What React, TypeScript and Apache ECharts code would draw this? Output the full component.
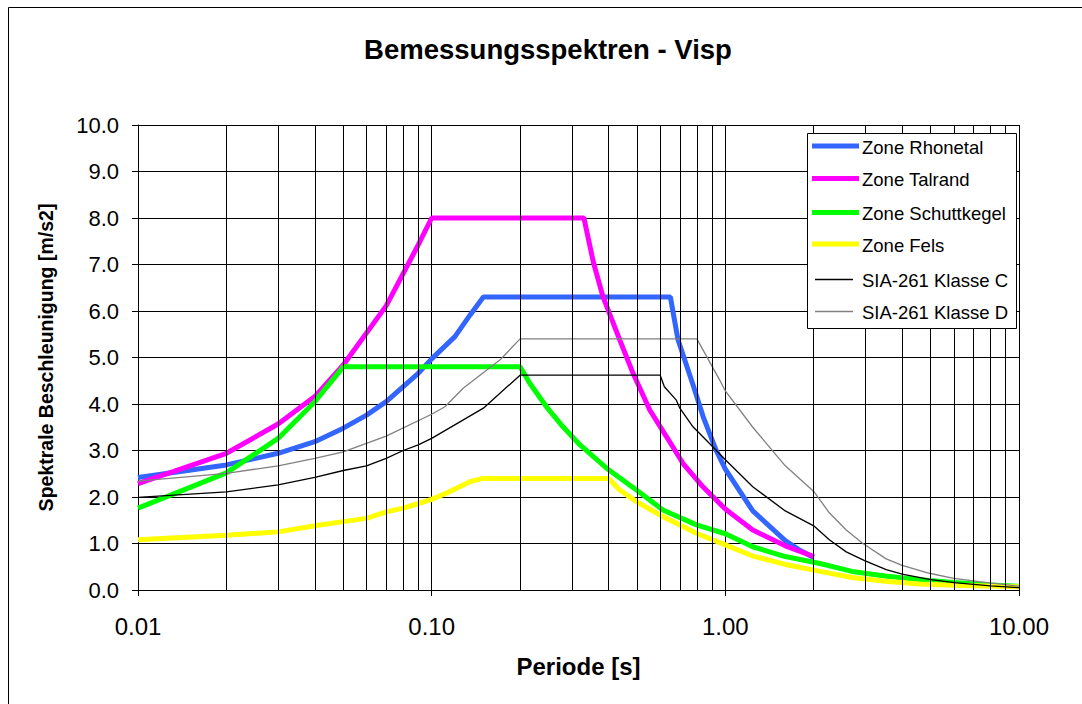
import React, { useEffect, useRef } from "react";
import * as echarts from "echarts";

const FONT = '"Liberation Sans", Arial, sans-serif';

// Periods [s] and spectral accelerations [m/s2] per zone
const rhonetalT = [0.01, 0.02, 0.03, 0.04, 0.05, 0.06, 0.07, 0.09, 0.1, 0.12, 0.135, 0.15, 0.65, 0.69, 0.78, 0.84, 0.93, 1.0, 1.24, 1.6, 1.8, 2.0];
const rhonetalA = [2.42, 2.69, 2.94, 3.19, 3.48, 3.76, 4.05, 4.66, 4.97, 5.45, 5.91, 6.3, 6.3, 5.38, 4.37, 3.73, 3.01, 2.6, 1.7, 1.06, 0.85, 0.7];

const talrandT = [0.01, 0.02, 0.03, 0.04, 0.05, 0.07, 0.09, 0.1, 0.33, 0.355, 0.383, 0.437, 0.485, 0.553, 0.63, 0.718, 0.839, 1.0, 1.24, 1.6, 2.0];
const talrandA = [2.29, 2.94, 3.57, 4.16, 4.84, 6.11, 7.42, 8.0, 8.0, 7.06, 6.31, 5.38, 4.66, 3.87, 3.3, 2.72, 2.22, 1.74, 1.29, 0.95, 0.72];

const schuttkegelT = [0.01, 0.02, 0.03, 0.04, 0.05, 0.2, 0.216, 0.246, 0.28, 0.32, 0.394, 0.498, 0.613, 0.797, 1.0, 1.24, 1.6, 2.1, 2.7, 3.5, 4.6, 6.0, 8.0, 10];
const schuttkegelA = [1.76, 2.52, 3.26, 4.05, 4.8, 4.8, 4.44, 3.94, 3.51, 3.12, 2.62, 2.15, 1.72, 1.4, 1.21, 0.93, 0.72, 0.57, 0.4, 0.3, 0.22, 0.16, 0.11, 0.08];

const felsT = [0.01, 0.02, 0.03, 0.04, 0.05, 0.06, 0.07, 0.08, 0.09, 0.1, 0.113, 0.135, 0.15, 0.4, 0.437, 0.498, 0.613, 0.797, 1.0, 1.24, 1.6, 2.1, 2.7, 3.5, 4.6, 6.0, 10];
const felsA = [1.08, 1.18, 1.25, 1.38, 1.47, 1.54, 1.68, 1.76, 1.86, 1.95, 2.09, 2.33, 2.4, 2.4, 2.15, 1.9, 1.58, 1.22, 0.97, 0.73, 0.55, 0.4, 0.27, 0.19, 0.13, 0.1, 0.07];

const klasseCT = [0.01, 0.02, 0.03, 0.04, 0.05, 0.06, 0.07, 0.08, 0.09, 0.1, 0.15, 0.2, 0.6, 0.62, 0.68, 0.7, 0.776, 0.906, 1.0, 1.24, 1.6, 2.0, 2.26, 2.58, 2.98, 3.53, 4.0, 4.95, 6.0, 8.0, 10];
const klasseCA = [1.99, 2.11, 2.26, 2.42, 2.57, 2.67, 2.83, 3.0, 3.12, 3.26, 3.91, 4.62, 4.62, 4.37, 4.09, 3.91, 3.51, 3.08, 2.8, 2.22, 1.7, 1.38, 1.08, 0.82, 0.63, 0.44, 0.34, 0.23, 0.16, 0.09, 0.05];

const klasseDT = [0.01, 0.02, 0.03, 0.04, 0.05, 0.07, 0.1, 0.111, 0.128, 0.171, 0.2, 0.8, 0.956, 1.0, 1.24, 1.6, 2.0, 2.26, 2.58, 2.94, 3.53, 4.0, 4.95, 6.0, 7.3, 10];
const klasseDA = [2.34, 2.51, 2.67, 2.83, 2.97, 3.31, 3.78, 3.94, 4.34, 4.95, 5.4, 5.4, 4.52, 4.28, 3.5, 2.67, 2.12, 1.66, 1.29, 1.0, 0.67, 0.53, 0.36, 0.25, 0.18, 0.08];

// Intermediate log grid lines (2..9 per decade)
const minorPeriods = [0.02, 0.03, 0.04, 0.05, 0.06, 0.07, 0.08, 0.09, 0.2, 0.3, 0.4, 0.5, 0.6, 0.7, 0.8, 0.9, 2, 3, 4, 5, 6, 7, 8, 9];

const seriesNames = ["Zone Rhonetal", "Zone Talrand", "Zone Schuttkegel", "Zone Fels", "SIA-261 Klasse C", "SIA-261 Klasse D"];
const seriesColors = ["#3366FF", "#FF00FF", "#00FF00", "#FFFF00", "#000000", "#808080"];
const seriesWidths = [5, 5, 5, 5, 1.3, 1.3];
const seriesT = [rhonetalT, talrandT, schuttkegelT, felsT, klasseCT, klasseDT];
const seriesA = [rhonetalA, talrandA, schuttkegelA, felsA, klasseCA, klasseDA];

// Legend box geometry
const LEGEND_BOX = { x: 807.5, y: 133.5, width: 209, height: 195 };
const legendRowY = [146, 178.5, 212.5, 244, 279.5, 311.5];

function buildLegend() {
  const items: any[] = [
    {
      type: "rect",
      silent: true,
      shape: { ...LEGEND_BOX },
      style: { fill: "#fff", stroke: "#000", lineWidth: 1 },
      z: 100,
    },
  ];
  seriesNames.forEach((name, i) => {
    const thick = seriesWidths[i] > 2;
    items.push({
      type: "line",
      silent: true,
      z: 101,
      shape: {
        x1: thick ? 812 : 815,
        y1: legendRowY[i],
        x2: thick ? 859 : 853,
        y2: legendRowY[i],
      },
      style: { stroke: seriesColors[i], lineWidth: seriesWidths[i] },
    });
    items.push({
      type: "text",
      silent: true,
      z: 101,
      x: 862,
      y: legendRowY[i] + 1,
      style: {
        text: name,
        font: `18.5px ${FONT}`,
        fill: "#000",
        align: "left",
        verticalAlign: "middle",
      },
    });
  });
  return items;
}

export default function App() {
  const ref = useRef<HTMLDivElement>(null);

  useEffect(() => {
    if (!ref.current) return;
    const chart = echarts.init(ref.current, undefined, { renderer: "svg" });

    const lines = seriesNames.map((name, i) => ({
      name,
      type: "line",
      data: seriesT[i].map((t, k) => [t, seriesA[i][k]]),
      showSymbol: false,
      symbol: "none",
      lineStyle: { color: seriesColors[i], width: seriesWidths[i] },
      itemStyle: { color: seriesColors[i] },
      emphasis: { disabled: true },
      z: 3,
    }));

    chart.setOption({
      animation: false,
      backgroundColor: "#ffffff",
      textStyle: { fontFamily: FONT, color: "#000" },
      graphic: [
        {
          type: "rect",
          silent: true,
          z: -10,
          shape: { x: 8.5, y: 7.5, width: 1100, height: 800 },
          style: { fill: "none", stroke: "#000", lineWidth: 1 },
        },
        {
          type: "text",
          x: 548,
          y: 49,
          style: {
            text: "Bemessungsspektren - Visp",
            font: `bold 27.5px ${FONT}`,
            fill: "#000",
            align: "center",
            verticalAlign: "middle",
          },
        },
        ...buildLegend(),
      ],
      grid: { left: 138, top: 125, width: 881, height: 465, containLabel: false },
      xAxis: {
        type: "log",
        logBase: 10,
        min: 0.01,
        max: 10,
        name: "Periode [s]",
        nameLocation: "middle",
        nameGap: 64,
        nameTextStyle: { fontWeight: "bold", fontSize: 24, color: "#000", fontFamily: FONT },
        axisLine: { show: true, lineStyle: { color: "#000", width: 1 } },
        axisTick: { show: true, length: 6, lineStyle: { color: "#000" } },
        axisLabel: {
          fontSize: 24,
          color: "#000",
          margin: 24,
          formatter: (v: number) => Number(v).toFixed(2),
        },
        splitLine: { show: true, lineStyle: { color: "#000", width: 1 } },
      },
      yAxis: {
        type: "value",
        min: 0,
        max: 10,
        interval: 1,
        name: "Spektrale Beschleunigung [m/s2]",
        nameLocation: "middle",
        nameGap: 82,
        nameTextStyle: { fontWeight: "bold", fontSize: 19.5, color: "#000", fontFamily: FONT },
        axisLine: { show: true, lineStyle: { color: "#000", width: 1 } },
        axisTick: { show: true, length: 6, lineStyle: { color: "#000" } },
        axisLabel: {
          fontSize: 22,
          color: "#000",
          margin: 19,
          formatter: (v: number) => Number(v).toFixed(1),
        },
        splitLine: { show: true, lineStyle: { color: "#000", width: 1 } },
      },
      series: [
        {
          name: "minor-grid",
          type: "line",
          data: [],
          silent: true,
          z: 1,
          markLine: {
            silent: true,
            symbol: ["none", "none"],
            label: { show: false },
            emphasis: { disabled: true },
            lineStyle: { color: "#000", width: 1, type: "solid" },
            data: minorPeriods.map((t) => ({ xAxis: t })),
          },
        },
        ...lines,
      ],
    });

    return () => chart.dispose();
  }, []);

  return (
    <div
      ref={ref}
      style={{ position: "fixed", left: 0, top: 0, width: 1082, height: 704 }}
    />
  );
}
